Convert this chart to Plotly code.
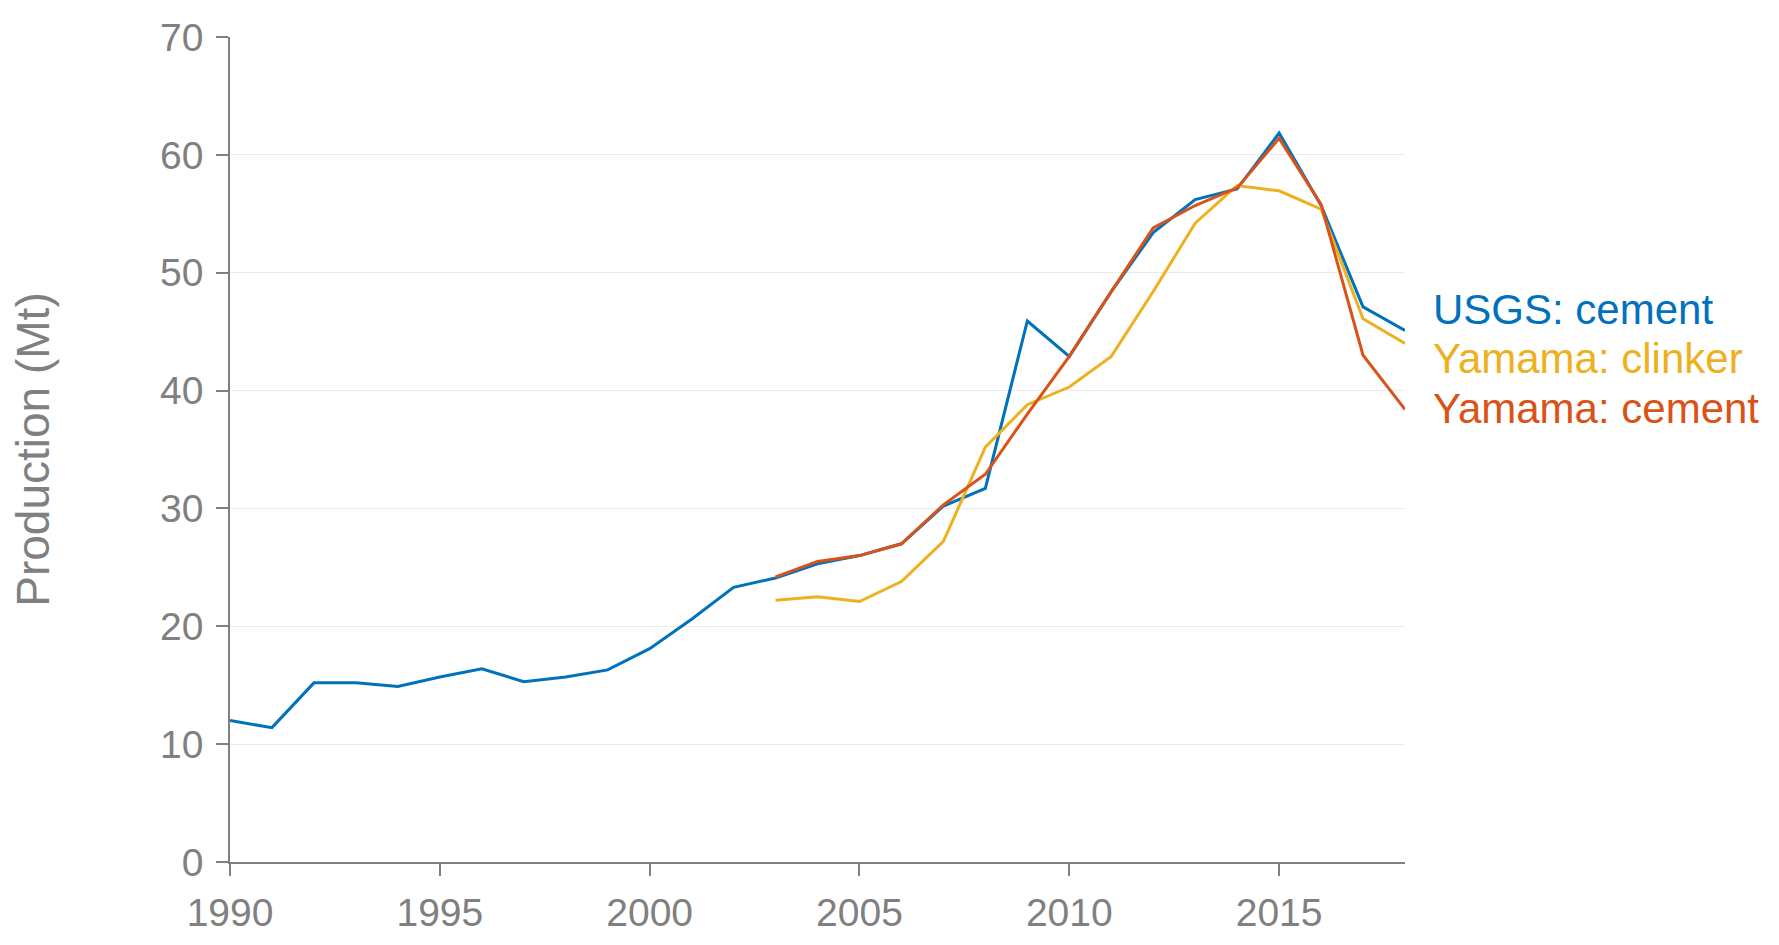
import plotly.graph_objects as go

years_usgs = list(range(1990, 2019))
usgs_cement = [12.0, 11.4, 15.2, 15.2, 14.9, 15.7, 16.4, 15.3, 15.7, 16.3,
               18.1, 20.6, 23.3, 24.1, 25.3, 26.0, 27.0, 30.2, 31.7, 45.9,
               42.9, 48.4, 53.4, 56.2, 57.1, 61.85, 55.7, 47.1, 45.1]

years_yamama = list(range(2003, 2019))
yamama_clinker = [22.2, 22.5, 22.1, 23.8, 27.2, 35.2, 38.8, 40.3, 42.9, 48.4,
                  54.2, 57.4, 56.95, 55.4, 46.1, 44.0]
yamama_cement = [24.2, 25.5, 26.0, 27.0, 30.3, 32.9, 38.0, 42.9, 48.4, 53.8,
                 55.7, 57.2, 61.4, 55.8, 43.0, 38.4]

series_names = ["USGS: cement", "Yamama: clinker", "Yamama: cement"]
series_colors = ["#0072BD", "#EDB120", "#D95319"]
label_y = [46.85, 42.75, 38.45]

x_ticks = [1990, 1995, 2000, 2005, 2010, 2015]
y_ticks = [0, 10, 20, 30, 40, 50, 60, 70]

FONT = "Helvetica, 'Liberation Sans', Arial, sans-serif"
GRAY = "#808080"

fig = go.Figure()
data = [(years_usgs, usgs_cement), (years_yamama, yamama_clinker), (years_yamama, yamama_cement)]
for i in range(3):
    xs, ys = data[i]
    fig.add_trace(go.Scatter(x=xs, y=ys, mode="lines", name=series_names[i],
                             line=dict(color=series_colors[i], width=3),
                             showlegend=False))

for name, color, yv in zip(series_names, series_colors, label_y):
    fig.add_annotation(x=2018, y=yv, xref="x", yref="y", text=name,
                       showarrow=False, xanchor="left", yanchor="middle",
                       xshift=26, font=dict(family=FONT, size=42, color=color))

fig.update_layout(
    width=1779, height=945,
    margin=dict(l=230, r=374, t=37, b=83),
    paper_bgcolor="white", plot_bgcolor="white",
    font=dict(family=FONT, color=GRAY),
)
fig.update_xaxes(range=[1990, 2018], tickvals=x_ticks, ticks="outside", ticklen=12,
                 tickcolor=GRAY, tickwidth=1.5, showline=True, linecolor=GRAY, linewidth=1.5,
                 showgrid=False, zeroline=False, ticklabelstandoff=3,
                 tickfont=dict(family=FONT, size=39, color=GRAY))
fig.update_yaxes(range=[0, 70], tickvals=y_ticks, ticks="outside", ticklen=12,
                 tickcolor=GRAY, tickwidth=1.5, showline=True, linecolor=GRAY, linewidth=1.5,
                 showgrid=True, gridcolor="#ebebeb", gridwidth=1, zeroline=False,
                 ticklabelstandoff=5,
                 tickfont=dict(family=FONT, size=39, color=GRAY),
                 title=dict(text="Production (Mt)", font=dict(family=FONT, size=46, color=GRAY),
                            standoff=96))

fig.write_html("out.html", config={"displayModeBar": False},
               post_script="document.body.style.margin='0';")
